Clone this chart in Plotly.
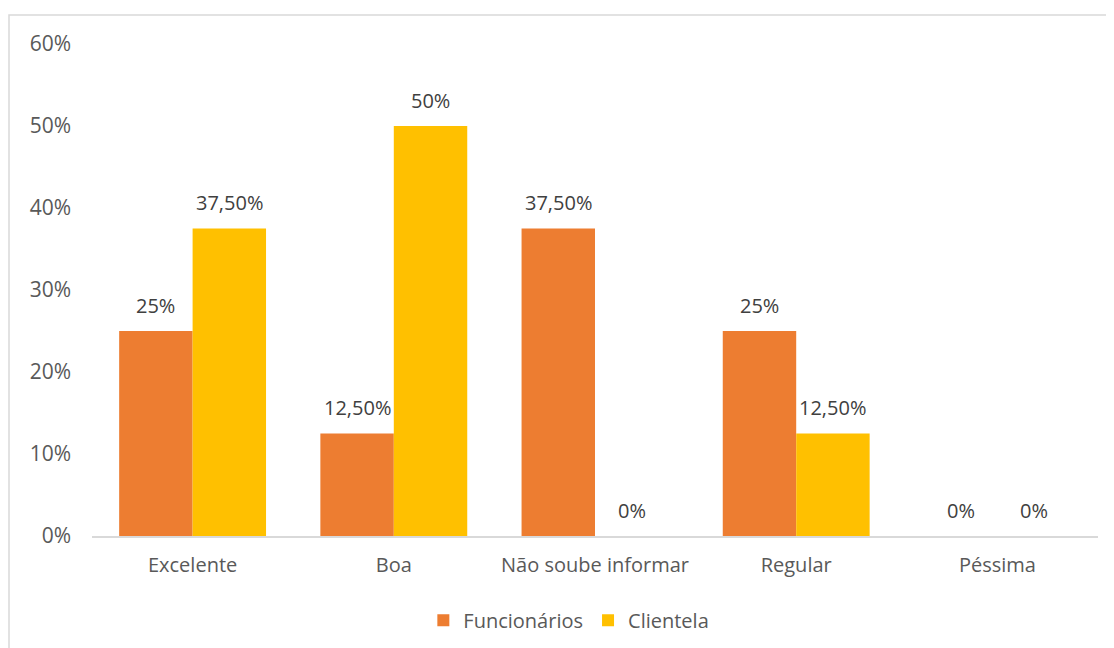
import plotly.graph_objects as go

categories = ["Excelente", "Boa", "Não soube informar", "Regular", "Péssima"]
funcionarios = [25, 12.5, 37.5, 25, 0]
clientela = [37.5, 50, 0, 12.5, 0]
func_labels = ["25%", "12,50%", "37,50%", "25%", "0%"]
cli_labels = ["37,50%", "50%", "0%", "12,50%", "0%"]
y_ticks = [0, 10, 20, 30, 40, 50, 60]
y_tick_labels = ["0%", "10%", "20%", "30%", "40%", "50%", "60%"]

ORANGE = "#ED7D31"
YELLOW = "#FFC000"
TEXT = "#595959"
LABEL = "#404040"
FONT = "Open Sans"
FS = 20

fig = go.Figure()
fig.add_trace(go.Bar(name="Funcionários", x=categories, y=funcionarios,
                     marker=dict(color=ORANGE, line=dict(width=0)), offsetgroup=0))
fig.add_trace(go.Bar(name="Clientela", x=categories, y=clientela,
                     marker=dict(color=YELLOW, line=dict(width=0)), offsetgroup=1))

annotations = []
for i, c in enumerate(categories):
    for vals, labs, off in ((funcionarios, func_labels, -0.1825), (clientela, cli_labels, 0.1825)):
        annotations.append(dict(
            x=i + off, y=vals[i], xref="x", yref="y", text=labs[i],
            showarrow=False, yshift=26, font=dict(family=FONT, size=FS, color=LABEL)))

# page has an 8px body margin, so figure coords are page coords minus 8
L, R, T, B = 84, 24, 36, 120
W, H = 1114, 648
pw, ph = W - L - R, H - T - B

fig.update_layout(
    width=W, height=H,
    margin=dict(l=L, r=R, t=T, b=B),
    paper_bgcolor="white", plot_bgcolor="white",
    barmode="group", bargap=0.27, bargroupgap=0,
    font=dict(family=FONT, size=FS, color=TEXT),
    xaxis=dict(type="category", showgrid=False, showline=True, linecolor="#D9D9D9",
               linewidth=1.5, ticks="", ticklabelstandoff=10,
               tickfont=dict(size=FS, color=TEXT)),
    yaxis=dict(range=[0, 60], tickvals=y_ticks, ticktext=y_tick_labels, showgrid=False,
               zeroline=False, showline=False, ticks="", ticklabelstandoff=20,
               tickfont=dict(size=21, color=TEXT)),
    legend=dict(orientation="h", x=0.474, xanchor="center", y=-0.171, yanchor="middle",
                font=dict(size=FS, color=TEXT), itemwidth=30, traceorder="normal"),
    annotations=annotations,
    shapes=[dict(type="rect", xref="paper", yref="paper",
                 x0=(1 - L) / pw, x1=(W + 20 - L) / pw,
                 y0=-0.4, y1=1 + (T - 7) / ph,
                 line=dict(color="#D9D9D9", width=1.5), fillcolor="rgba(0,0,0,0)", layer="below")],
)

fig.write_html("out.html")
